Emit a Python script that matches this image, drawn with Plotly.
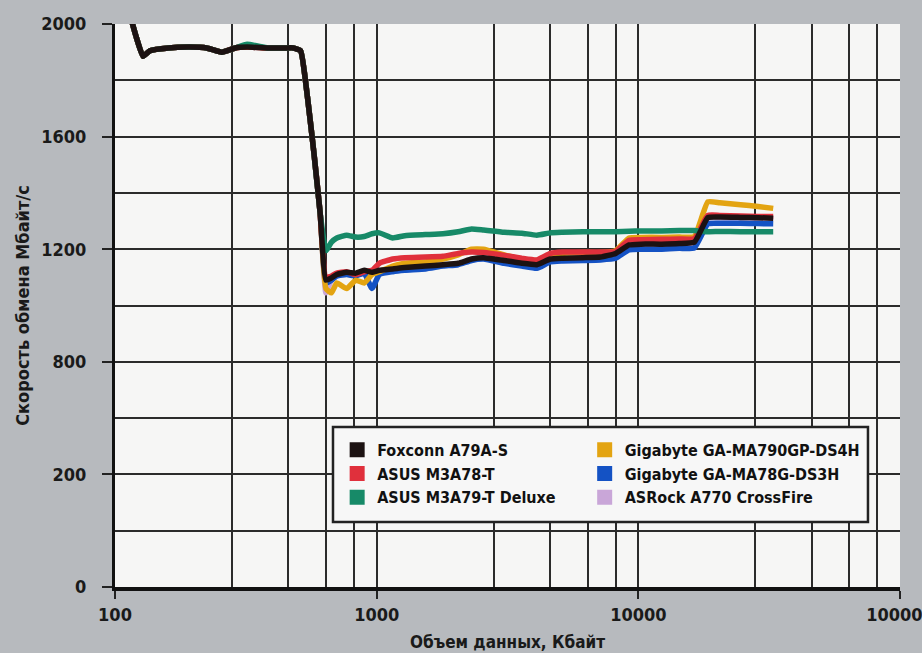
import plotly.graph_objects as go

# Data size, KB
sizes = [112, 120, 128, 136, 160, 192, 224, 256, 288, 320, 384, 448, 480, 512,
         544, 576, 608, 640, 672, 704, 768, 832, 896, 960, 1024, 1152, 1280,
         1536, 1792, 2048, 2304, 2560, 3072, 3584, 4096, 4608, 5120, 6144,
         7168, 8192, 9216, 10240, 12288, 14336, 16384, 18432, 20480, 24576,
         28672, 32768]

pre = [2060, 1960, 1885, 1905, 1915, 1918, 1915, 1900, 1915, 1918, 1915,
       1915, 1915, 1905, 1740, 1540, 1330]

foxconn = pre + [1090, 1098, 1110, 1118, 1115, 1125, 1118, 1125, 1130, 1135,
                 1140, 1145, 1150, 1165, 1170, 1160, 1150, 1145, 1165, 1168,
                 1170, 1172, 1185, 1215, 1218, 1218, 1220, 1225, 1312, 1314,
                 1313, 1312, 1310]

asus_m3a78 = pre + [1100, 1105, 1115, 1120, 1110, 1120, 1125, 1150, 1165, 1170,
                    1172, 1175, 1185, 1190, 1188, 1178, 1168, 1162, 1185, 1190,
                    1190, 1190, 1192, 1232, 1234, 1235, 1236, 1238, 1320, 1320,
                    1318, 1316, 1316]

asus_m3a79 = [2060, 1960, 1885, 1905, 1915, 1918, 1915, 1900, 1915, 1928, 1915,
              1915, 1915, 1905, 1740, 1540, 1330] + [
              1195, 1225, 1240, 1250, 1243, 1245, 1255, 1258, 1240, 1248,
              1252, 1255, 1262, 1272, 1268, 1260, 1257, 1250, 1258, 1260,
              1262, 1262, 1262, 1264, 1265, 1265, 1266, 1266, 1262, 1263,
              1262, 1262, 1262]

giga_ds4h = pre + [1060, 1045, 1080, 1060, 1090, 1080, 1110, 1120, 1140, 1150,
                   1155, 1165, 1180, 1200, 1200, 1180, 1165, 1160, 1180, 1185,
                   1188, 1188, 1195, 1240, 1242, 1242, 1243, 1245, 1368, 1365,
                   1358, 1352, 1345]

giga_ds3h = pre + [1080, 1090, 1105, 1110, 1105, 1115, 1060, 1110, 1120, 1125,
                   1130, 1140, 1145, 1160, 1165, 1150, 1140, 1132, 1155, 1158,
                   1160, 1162, 1168, 1198, 1200, 1200, 1203, 1205, 1290, 1292,
                   1292, 1291, 1290]

asrock = pre + [1045, 1090, 1105, 1112, 1110, 1120, 1115, 1120, 1128, 1132,
                1138, 1143, 1148, 1162, 1168, 1158, 1148, 1143, 1162, 1165,
                1168, 1170, 1183, 1213, 1216, 1216, 1218, 1222, 1310, 1312,
                1311, 1310, 1308]

legend_col1 = ["Foxconn A79A-S", "ASUS M3A78-T", "ASUS M3A79-T Deluxe"]
legend_col2 = ["Gigabyte GA-MA790GP-DS4H", "Gigabyte GA-MA78G-DS3H",
               "ASRock A770 CrossFire"]
colors = {"Foxconn A79A-S": "#1c1212",
          "ASUS M3A78-T": "#e0303c",
          "ASUS M3A79-T Deluxe": "#178a68",
          "Gigabyte GA-MA790GP-DS4H": "#e3a412",
          "Gigabyte GA-MA78G-DS3H": "#1452c4",
          "ASRock A770 CrossFire": "#c9a6d8"}
series = {"Foxconn A79A-S": foxconn, "ASUS M3A78-T": asus_m3a78,
          "ASUS M3A79-T Deluxe": asus_m3a79,
          "Gigabyte GA-MA790GP-DS4H": giga_ds4h,
          "Gigabyte GA-MA78G-DS3H": giga_ds3h,
          "ASRock A770 CrossFire": asrock}
draw_order = ["ASRock A770 CrossFire", "Gigabyte GA-MA78G-DS3H",
              "Gigabyte GA-MA790GP-DS4H", "ASUS M3A78-T",
              "ASUS M3A79-T Deluxe", "Foxconn A79A-S"]

y_ticks = [0, 400, 800, 1200, 1600, 2000]
y_ticktext = ["0", "200", "800", "1200", "1600", "2000"]
y_minor = [200, 600, 1000, 1400, 1800]
x_ticks = [100, 1000, 10000, 100000]
x_ticktext = ["100", "1000", "10000", "100000"]
x_minor = [280, 460, 640, 820, 2800, 4600, 6400, 8200, 28000, 46000, 64000, 82000]

FONT = "DejaVu Sans Condensed"

fig = go.Figure()
for n in draw_order:
    fig.add_trace(go.Scatter(x=sizes, y=series[n], mode="lines", name=n,
                             line=dict(color=colors[n], width=5.5, shape="spline",
                                       smoothing=0.4),
                             showlegend=False))
for col, lg in ((legend_col1, "legend"), (legend_col2, "legend2")):
    for i, n in enumerate(col):
        fig.add_trace(go.Scatter(x=[None], y=[None], mode="markers", name=n,
                                 marker=dict(symbol="square", size=15, color=colors[n]),
                                 legend=lg, legendrank=i + 1, showlegend=True))

leg_font = dict(family=FONT, size=16, color="#111", weight="bold")
grid = "#2b2b2b"
fig.update_layout(
    width=922, height=653,
    margin=dict(l=115, r=22, t=24, b=66),
    paper_bgcolor="#b7babe",
    plot_bgcolor="#f6f6f5",
    font=dict(family=FONT, size=17, color="#1a1a1a", weight="bold"),
    showlegend=True,
    shapes=[dict(type="rect", xref="paper", yref="paper",
                 x0=0.2777, x1=0.9592, y0=0.1155, y1=0.2842,
                 fillcolor="#f7f7f7", line=dict(color="#222", width=2.5),
                 layer="above")],
    legend=dict(orientation="v", x=0.283, y=0.274, xanchor="left", yanchor="top",
                bgcolor="rgba(0,0,0,0)", borderwidth=0, tracegroupgap=0,
                font=leg_font),
    legend2=dict(orientation="v", x=0.955, y=0.274, xanchor="right", yanchor="top",
                 bgcolor="rgba(0,0,0,0)", borderwidth=0, tracegroupgap=0,
                 font=leg_font),
    xaxis=dict(type="log", range=[2, 5], tickvals=x_ticks, ticktext=x_ticktext,
               automargin=False,
               showgrid=True, gridcolor=grid, gridwidth=2,
               minor=dict(tickvals=x_minor, showgrid=True, gridcolor=grid,
                          gridwidth=2, ticks=""),
               ticks="outside", ticklen=8, tickwidth=2, tickcolor="#222",
               showline=True, linecolor="#111", linewidth=4, mirror=False,
               ticklabeloverflow="allow",
               tickfont=dict(family=FONT, size=18, color="#1a1a1a", weight="bold"),
               title=dict(text="Объем данных, Кбайт", standoff=14,
                          font=dict(family=FONT, size=17, color="#1a1a1a", weight="bold")),
               zeroline=False),
    yaxis=dict(range=[0, 2000], tickvals=y_ticks, ticktext=y_ticktext,
               automargin=False, ticklabelstandoff=12,
               showgrid=True, gridcolor=grid, gridwidth=2,
               minor=dict(tickvals=y_minor, showgrid=True, gridcolor=grid,
                          gridwidth=2, ticks=""),
               ticks="outside", ticklen=10, tickwidth=2, tickcolor="#222",
               showline=True, linecolor="#111", linewidth=3,
               tickfont=dict(family=FONT, size=18, color="#1a1a1a", weight="bold"),
               title=dict(text="Скорость обмена Мбайт/с", standoff=8,
                          font=dict(family=FONT, size=18, color="#1a1a1a", weight="bold")),
               zeroline=False),
)

fig.write_html("out.html", config={"displayModeBar": False},
               post_script="document.body.style.margin='0';")
